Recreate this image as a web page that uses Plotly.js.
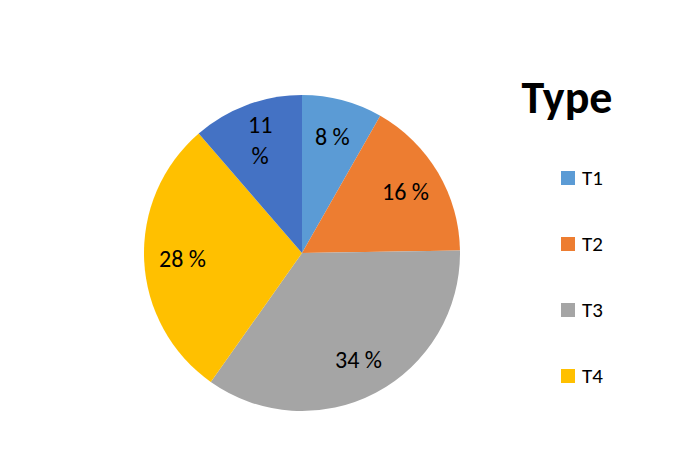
<!DOCTYPE html>
<html><head><meta charset="utf-8">
<script src="https://cdn.plot.ly/plotly-3.0.1.min.js"></script>
<style>html,body{margin:0;padding:0;background:#fff;}#chart{width:686px;height:452px;}</style>
</head><body><div id="chart"></div>
<script>
const sliceLabels = ['T1', 'T2', 'T3', 'T4', 'T5'];
const sliceValues = [8, 16, 34, 28, 11];
const sliceColors = ['#5B9BD5', '#ED7D31', '#A5A5A5', '#FFC000', '#4472C4'];
const legendLabels = ['T1', 'T2', 'T3', 'T4'];
const legendTitle = 'Type';

const W = 686, H = 452;
const font = 'Carlito, Calibri, "Liberation Sans", Arial, sans-serif';

// pie geometry (pixels)
const cx = 302, cy = 253, R = 158;
const px = x => x / W, py = y => 1 - y / H;

const traces = [{
  type: 'pie',
  labels: sliceLabels,
  values: sliceValues,
  sort: false,
  direction: 'clockwise',
  rotation: 0,
  marker: {colors: sliceColors, line: {width: 0}},
  textinfo: 'none',
  hoverinfo: 'label+value',
  showlegend: false,
  domain: {x: [px(cx - R), px(cx + R)], y: [py(cy + R), py(cy - R)]}
}];

const annotations = [];
const total = sliceValues.reduce((a, b) => a + b, 0);
let cum = 0;
sliceValues.forEach((v, i) => {
  const mid = (cum + v / 2) / total * 2 * Math.PI;
  cum += v;
  const r = 0.76 * R;
  const x = cx + r * Math.sin(mid), y = cy - r * Math.cos(mid);
  annotations.push({
    xref: 'paper', yref: 'paper', x: px(x), y: py(y),
    xanchor: 'center', yanchor: 'middle', showarrow: false,
    text: i === 4 ? v + '<br>%' : v + ' %',
    font: {size: 24, color: '#000', family: font}
  });
});

// legend
const shapes = [];
const legX = 561, legY0 = 178, legStep = 66, sq = 14;
legendLabels.forEach((lab, i) => {
  const y = legY0 + i * legStep;
  shapes.push({type: 'rect', xref: 'paper', yref: 'paper',
    x0: px(legX), x1: px(legX + sq), y0: py(y + sq / 2), y1: py(y - sq / 2),
    fillcolor: sliceColors[i], line: {width: 0}});
  annotations.push({xref: 'paper', yref: 'paper', x: px(legX + sq + 5), y: py(y),
    xanchor: 'left', yanchor: 'middle', showarrow: false, text: lab,
    font: {size: 21, color: '#000', family: font}});
});

const layout = {
  width: W, height: H,
  margin: {l: 0, r: 0, t: 0, b: 0},
  paper_bgcolor: '#fff', plot_bgcolor: '#fff',
  showlegend: false,
  title: {text: '<b>' + legendTitle + '</b>', x: px(567), xanchor: 'center', xref: 'paper',
          y: py(97), yanchor: 'middle', yref: 'paper',
          font: {size: 46, color: '#000', family: font}},
  annotations: annotations,
  shapes: shapes
};

Plotly.newPlot('chart', traces, layout, {displayModeBar: false, staticPlot: true});
</script>
</body></html>
